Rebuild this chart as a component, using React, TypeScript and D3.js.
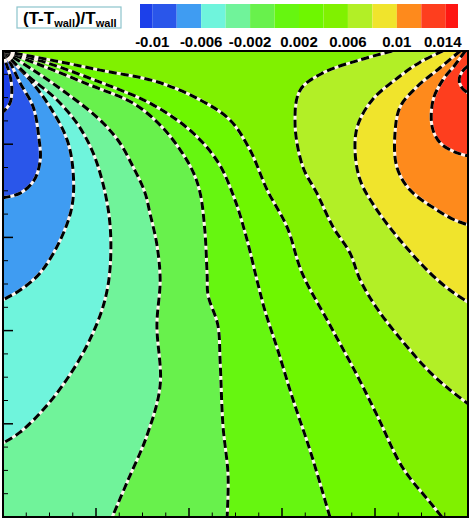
import React from 'react';
import * as d3 from 'd3';

type Pt = [number, number];

// contour levels of (T - Twall)/Twall and the fill colour of each band
const levels = [-0.01, -0.008, -0.006, -0.004, -0.002, 0, 0.002, 0.004, 0.006, 0.008, 0.01, 0.012, 0.014];
const bandColors = [
  '#1c40ea', '#2a56ea', '#3f9cf2', '#6ff4dc', '#70f39a', '#68f14c', '#66f610',
  '#6ef700', '#80f100', '#b2ef26', '#f0e42c', '#fe8a1c', '#fe3e1e', '#fe1612',
];
const legendTicks = [-0.01, -0.006, -0.002, 0.002, 0.006, 0.01, 0.014];
const legendLabels = ['-0.01', '-0.006', '-0.002', '0.002', '0.006', '0.01', '0.014'];

// contour lines, (x, y) in cavity units 0..1
const cM010: Pt[] = [[0, 1], [0.006, 0.976], [0.015, 0.948], [0.019, 0.916], [0.015, 0.888], [0, 0.869]];
const cM008: Pt[] = [[0, 1], [0.015, 0.976], [0.037, 0.931], [0.065, 0.88], [0.077, 0.815], [0.08, 0.766], [0.067, 0.723], [0.037, 0.695], [0, 0.685]];
const cM006: Pt[] = [[0, 1], [0.022, 0.976], [0.058, 0.938], [0.101, 0.88], [0.138, 0.809], [0.151, 0.738], [0.148, 0.665], [0.123, 0.594], [0.08, 0.524], [0.037, 0.487], [0, 0.466]];
const cM004: Pt[] = [[0, 1], [0.052, 0.948], [0.112, 0.899], [0.159, 0.845], [0.191, 0.788], [0.213, 0.723], [0.228, 0.648], [0.232, 0.573], [0.226, 0.498], [0.209, 0.433], [0.166, 0.341], [0.101, 0.247], [0.037, 0.182], [0, 0.159]];
const cM002: Pt[] = [[0, 1], [0.065, 0.959], [0.133, 0.912], [0.202, 0.858], [0.247, 0.809], [0.28, 0.751], [0.305, 0.697], [0.316, 0.652], [0.331, 0.584], [0.338, 0.509], [0.331, 0.412], [0.338, 0.283], [0.31, 0.176], [0.267, 0.075], [0.235, 0]];
const c000: Pt[] = [[0, 1], [0.08, 0.97], [0.187, 0.927], [0.28, 0.888], [0.338, 0.841], [0.381, 0.788], [0.409, 0.74], [0.424, 0.695], [0.434, 0.616], [0.439, 0.519], [0.441, 0.476], [0.462, 0.412], [0.467, 0.333], [0.473, 0.197], [0.484, 0.09], [0.482, 0]];
const cP002: Pt[] = [[0, 1], [0.09, 0.976], [0.209, 0.933], [0.316, 0.888], [0.402, 0.83], [0.462, 0.762], [0.499, 0.68], [0.525, 0.594], [0.546, 0.509], [0.563, 0.444], [0.591, 0.358], [0.624, 0.251], [0.66, 0.144], [0.686, 0.058], [0.703, 0]];
const cP004: Pt[] = [[0, 1], [0.101, 0.981], [0.209, 0.959], [0.331, 0.934], [0.424, 0.895], [0.488, 0.852], [0.531, 0.788], [0.568, 0.702], [0.611, 0.622], [0.643, 0.524], [0.703, 0.412], [0.761, 0.305], [0.804, 0.219], [0.86, 0.105], [0.918, 0.032], [0.944, 0]];
const cP006: Pt[] = [[0.837, 1], [0.768, 0.981], [0.688, 0.953], [0.639, 0.916], [0.628, 0.845], [0.645, 0.751], [0.675, 0.695], [0.71, 0.622], [0.746, 0.567], [0.768, 0.509], [0.804, 0.448], [0.86, 0.376], [0.918, 0.311], [0.961, 0.273], [1, 0.243]];
const cP008: Pt[] = [[0.946, 1], [0.897, 0.976], [0.843, 0.938], [0.794, 0.895], [0.763, 0.841], [0.757, 0.788], [0.768, 0.723], [0.8, 0.665], [0.854, 0.594], [0.918, 0.524], [0.961, 0.487], [1, 0.461]];
const cP010: Pt[] = [[0.983, 1], [0.94, 0.964], [0.89, 0.923], [0.854, 0.88], [0.843, 0.824], [0.847, 0.751], [0.875, 0.702], [0.933, 0.659], [0.972, 0.637], [1, 0.627]];
const cP012: Pt[] = [[0.994, 1], [0.972, 0.97], [0.946, 0.938], [0.925, 0.895], [0.923, 0.837], [0.94, 0.803], [0.972, 0.783], [1, 0.775]];
const cP014: Pt[] = [[1, 0.968], [0.987, 0.955], [0.981, 0.938], [0.987, 0.921], [1, 0.91]];

const contourLines = [cM010, cM008, cM006, cM004, cM002, c000, cP002, cP004, cP006, cP008, cP010, cP012, cP014];

const W = 471;
const H = 521;
const x = d3.scaleLinear().domain([0, 1]).range([3, 468]);
const y = d3.scaleLinear().domain([0, 1]).range([517, 51]);
const legendX = d3.scaleLinear().domain([-0.011, 0.015]).range([140, 458]);

const lineGen = d3.line<Pt>().x((d) => x(d[0])).y((d) => y(d[1])).curve(d3.curveCatmullRom.alpha(0.5));

// position along the frame: down the left wall, along the bottom, up the right wall, back along the top
const perim = (p: Pt) => {
  const e = 1e-6;
  if (p[0] <= e) return 1 - p[1];
  if (p[1] <= e) return 1 + p[0];
  if (p[0] >= 1 - e) return 2 + p[1];
  return 3 + (1 - p[0]);
};
const corners: { s: number; p: Pt }[] = [
  { s: 1, p: [0, 0] },
  { s: 2, p: [1, 0] },
  { s: 3, p: [1, 1] },
  { s: 4, p: [0, 1] },
];

// region above a level = the contour line closed along the frame on its high side
function highSide(pts: Pt[]) {
  const se = perim(pts[pts.length - 1]);
  let ss = perim(pts[0]);
  if (ss <= se) ss += 4;
  const extra: Pt[] = [];
  [0, 4].forEach((k) => {
    corners.forEach((c) => {
      const cs = c.s + k;
      if (cs > se && cs < ss) extra.push(c.p);
    });
  });
  return lineGen(pts) + extra.map((c) => `L${x(c[0])},${y(c[1])}`).join('') + 'Z';
}

export default function App() {
  const font = '"Liberation Sans", Arial, Helvetica, sans-serif';
  const majors = x.ticks(5);
  const minors = x.ticks(20).filter((t) => !majors.some((m) => Math.abs(m - t) < 1e-9));
  const bandEdges = [legendX.domain()[0], ...levels, legendX.domain()[1]];

  return (
    <svg width={W} height={H} style={{ position: 'absolute', left: 0, top: 0, background: '#fff' }} fontFamily={font}>
      <defs>
        <clipPath id="plotClip">
          <rect x={x(0)} y={y(1)} width={x(1) - x(0)} height={y(0) - y(1)} />
        </clipPath>
      </defs>

      {/* title box */}
      <rect x={17} y={7} width={104} height={21} fill="#fff" stroke="#8cc4cc" strokeWidth={1.2} />
      <text x={23} y={24} fontSize={17} fontWeight="bold" fill="#000">
        (T-T<tspan fontSize={11} dy={3}>wall</tspan>
        <tspan dy={-3}>)/T</tspan>
        <tspan fontSize={11} dy={3}>wall</tspan>
      </text>

      {/* colour bar */}
      {bandColors.map((c, i) => (
        <rect key={i} x={legendX(bandEdges[i])} y={4} width={legendX(bandEdges[i + 1]) - legendX(bandEdges[i])} height={24} fill={c} />
      ))}
      {legendTicks.map((t, i) => (
        <text key={t} x={legendX(t) - (i === legendTicks.length - 1 ? 3 : 0)} y={47} fontSize={15} fontWeight="bold" textAnchor="middle" fill="#000">
          {legendLabels[i]}
        </text>
      ))}

      {/* filled contours */}
      <g clipPath="url(#plotClip)">
        <rect x={x(0)} y={y(1)} width={x(1) - x(0)} height={y(0) - y(1)} fill={bandColors[0]} />
        {contourLines.map((pts, i) => (
          <path key={`f${i}`} d={highSide(pts)} fill={bandColors[i + 1]} stroke={bandColors[i + 1]} strokeWidth={0.5} />
        ))}
        {contourLines.map((pts, i) => (
          <g key={`l${i}`}>
            <path d={lineGen(pts) || ''} fill="none" stroke="#fff4ee" strokeWidth={3} />
            <path d={lineGen(pts) || ''} fill="none" stroke="#000" strokeWidth={3} strokeDasharray="8 4" />
          </g>
        ))}
      </g>

      {/* ticks */}
      {majors.map((t) => (
        <g key={`mj${t}`}>
          <line x1={x(t)} x2={x(t)} y1={y(0)} y2={y(0) - 9} stroke="#000" strokeWidth={1.5} />
          <line x1={x(0)} x2={x(0) + 10} y1={y(t)} y2={y(t)} stroke="#000" strokeWidth={1.5} />
        </g>
      ))}
      {minors.map((t) => (
        <g key={`mn${t}`}>
          <line x1={x(t)} x2={x(t)} y1={y(0)} y2={y(0) - 4.5} stroke="#000" strokeWidth={1} />
          <line x1={x(0)} x2={x(0) + 5} y1={y(t)} y2={y(t)} stroke="#000" strokeWidth={1} />
        </g>
      ))}

      {/* frame */}
      <rect x={x(0)} y={y(1)} width={x(1) - x(0)} height={y(0) - y(1)} fill="none" stroke="#000" strokeWidth={2} />
    </svg>
  );
}
